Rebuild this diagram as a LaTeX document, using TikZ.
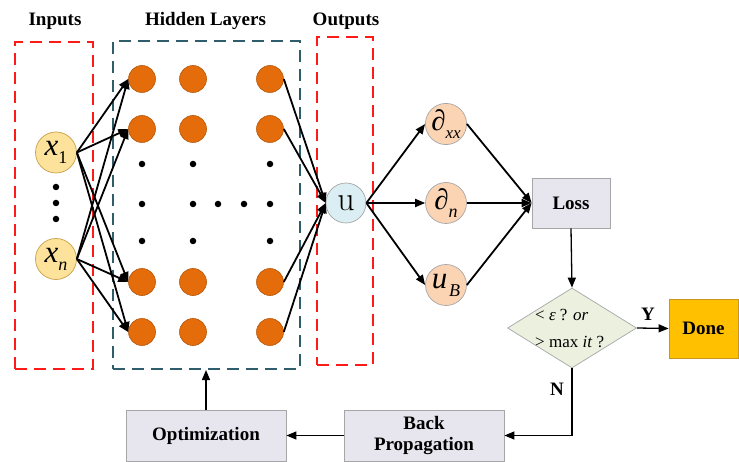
\documentclass[tikz,border=0pt]{standalone}
\usepackage{fontspec}
\setmainfont{Liberation Serif}
\usetikzlibrary{arrows.meta,shapes.geometric}
\definecolor{hidorange}{HTML}{E46C0A}
\definecolor{hidborder}{HTML}{B85808}
\definecolor{inyellow}{HTML}{FCE29A}
\definecolor{inborder}{HTML}{C8A04A}
\definecolor{ublue}{HTML}{DAEEF3}
\definecolor{peach}{HTML}{FBD4B4}
\definecolor{dgreen}{HTML}{EBF1DE}
\definecolor{boxgray}{HTML}{E7E6EF}
\definecolor{edgegray}{HTML}{A6A6A6}
\definecolor{donegold}{HTML}{FFC000}
\definecolor{doneedge}{HTML}{C8961E}
\definecolor{tealdash}{HTML}{2F5D6B}
\definecolor{reddash}{HTML}{FF1A1A}
\newcommand\lbl{\bfseries\fontsize{19}{22}\selectfont}
\newcommand\sublow[1]{\raisebox{-8pt}{\fontsize{18}{18}\selectfont #1}}
\begin{document}
\begin{tikzpicture}[x=1pt,y=-1pt,
  arr/.style={-{Triangle[length=10pt,width=8pt]}, line width=1.8pt},
  hid/.style={circle, fill=hidorange, draw=hidborder, line width=0.6pt, minimum size=27pt, inner sep=0pt},
  innode/.style={circle, fill=inyellow, draw=inborder, line width=0.7pt, minimum size=41pt, inner sep=0pt},
  dnode/.style={circle, fill=peach, draw=edgegray, line width=0.7pt, minimum size=41pt, inner sep=0pt},
  procbox/.style={rectangle, fill=boxgray, draw=edgegray, line width=0.8pt, inner sep=0pt, font=\lbl, align=center},
  dashbox/.style={rectangle, line width=2pt, dash pattern=on 12pt off 7pt, inner sep=0pt},
  dotp/.style={circle, fill=black, inner sep=0pt, minimum size=6.5pt}
]
\useasboundingbox (0,0) rectangle (739,462);

% titles
\node[anchor=base, font=\lbl] (tin) at (55,26) {Inputs};
\node[anchor=base, font=\lbl] (thid) at (205.5,26) {Hidden Layers};
\node[anchor=base, font=\lbl] (tout) at (346,26) {Outputs};

% dashed group boxes
\node[dashbox, draw=reddash, minimum width=78pt, minimum height=327pt] (inbox) at (54,205.5) {};
\node[dashbox, draw=tealdash, minimum width=187pt, minimum height=328pt] (hidbox) at (206.5,205) {};
\node[dashbox, draw=reddash, minimum width=56pt, minimum height=328pt] (outbox) at (345,201) {};

% inputs
\node[innode] (x1) at (56,152.5) {{\fontsize{31}{31}\selectfont\itshape x}\sublow{1}};
\node[innode] (xn) at (56,259) {{\fontsize{31}{31}\selectfont\itshape x}\sublow{\itshape n}};
\node[dotp] (vd1) at (56,187) {};
\node[dotp] (vd2) at (56,203) {};
\node[dotp] (vd3) at (56,219) {};

% hidden nodes
\foreach \c/\xx in {1/142,2/193,3/270}{
  \foreach \r/\yy in {1/79,2/129,3/282,4/332}{
    \node[hid] (h\c\r) at (\xx,\yy) {};
  }
}
% hidden dots
\foreach \xx/\k in {142/a,193/b,270/c}{
  \node[dotp] (dt\k) at (\xx,164) {};
  \node[dotp] (dm\k) at (\xx,204) {};
  \node[dotp] (db\k) at (\xx,241) {};
}
\node[dotp] (dmd) at (218,204) {};
\node[dotp] (dme) at (244,204) {};

% output u
\node[circle, fill=ublue, draw=edgegray, line width=0.7pt, minimum size=40pt, inner sep=0pt] (u) at (346,203)
  {\usefont{TU}{lmr}{m}{n}\fontsize{34}{34}\selectfont u};

% derivative nodes
\node[dnode] (dxx) at (446,124) {{\fontsize{29}{29}\selectfont ∂}\sublow{\fontsize{17}{17}\selectfont\itshape xx}};
\node[dnode] (dn) at (446,203) {{\fontsize{29}{29}\selectfont ∂}\sublow{\itshape n}};
\node[dnode] (ub) at (446,285) {{\fontsize{31}{31}\selectfont\itshape u}\,\sublow{\itshape B}};

% loss, decision, done
\node[procbox, minimum width=78pt, minimum height=50pt] (loss) at (571,203) {Loss};
\node[diamond, fill=dgreen, draw=edgegray, line width=0.7pt, minimum width=129pt, minimum height=80pt, inner sep=0pt] (dec) at (572,328) {};
\node[anchor=base west, font=\fontsize{17}{20}\selectfont, inner sep=0pt] (dq1) at (535,320) {< \textit{ε} ? \textit{or}};
\node[anchor=base west, font=\fontsize{17}{20}\selectfont, inner sep=0pt] (dq2) at (535,348) {> max \textit{it} ?};
\node[rectangle, fill=donegold, draw=doneedge, line width=0.8pt, minimum width=69pt, minimum height=59pt, font=\lbl] (done) at (703.5,328.5) {Done};
\node[anchor=base, font=\lbl] (ylab) at (648,321) {Y};
\node[anchor=base, font=\lbl] (nlab) at (557,395) {N};

% bottom boxes
\node[procbox, minimum width=160pt, minimum height=51pt] (bp) at (424,435.5) {Back\\[-1pt]Propagation};
\node[procbox, minimum width=160pt, minimum height=51pt] (opt) at (206,435.5) {Optimization};

% connectors
\foreach \r in {1,2,3,4}{
  \draw[arr] (x1.east) -- (h1\r.west);
  \draw[arr] (xn.east) -- (h1\r.west);
  \draw[arr] (h3\r.east) -- (u.west);
}
\draw[arr] (u.east) -- (dxx.west);
\draw[arr] (u.east) -- (dn.west);
\draw[arr] (u.east) -- (ub.west);
\draw[arr] (dxx.east) -- (loss.west);
\draw[arr] (dn.east) -- (loss.west);
\draw[arr] (ub.east) -- (loss.west);
\draw[arr, line width=1.3pt] (loss.south) -- (dec.north);
\draw[arr, line width=1.3pt] (dec.east) -- (done.west);
\draw[arr, line width=1.3pt] (dec.south) |- (bp.east);
\draw[arr, line width=1.3pt] (bp.west) -- (opt.east);
\draw[arr, line width=1.3pt] (opt.north) -- (opt.north |- hidbox.south);
\end{tikzpicture}
\end{document}
